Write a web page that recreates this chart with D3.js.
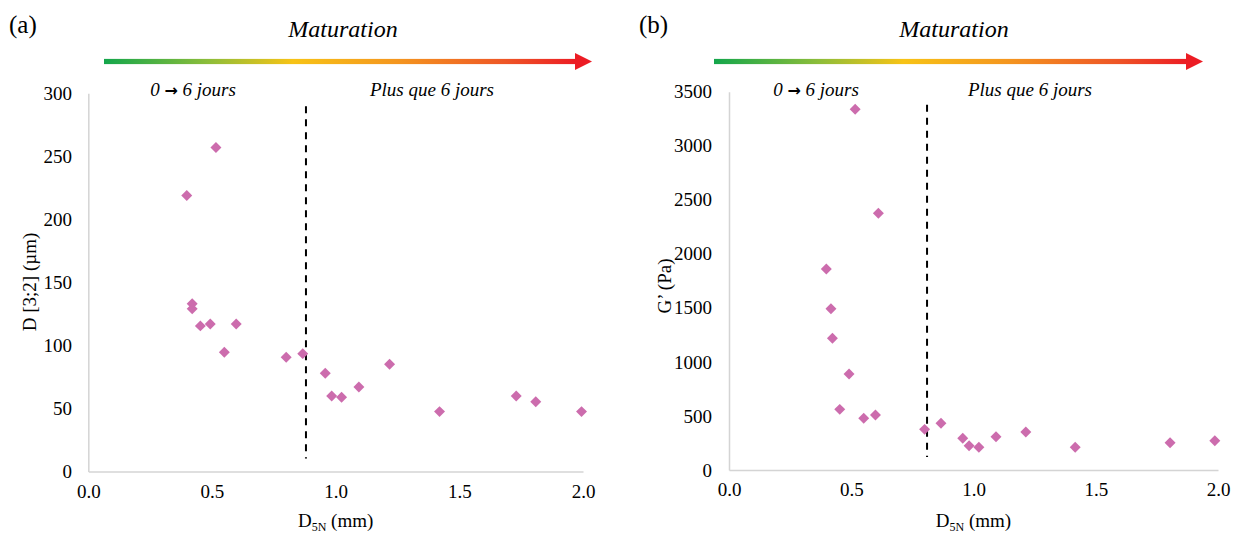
<!DOCTYPE html>
<html>
<head>
<meta charset="utf-8">
<script src="https://cdn.jsdelivr.net/npm/d3@7"></script>
<style>
  html, body { margin: 0; padding: 0; background: #fff; }
  svg { display: block; }
</style>
</head>
<body>
<svg id="chart" width="1237" height="538"></svg>
<script>
// ---------- data ----------
const xTicks = [0, 0.5, 1.0, 1.5, 2.0];
const yTicksA = [0, 50, 100, 150, 200, 250, 300];
const yTicksB = [0, 500, 1000, 1500, 2000, 2500, 3000, 3500];

// Panel (a): D5N (mm) vs D[3;2] (µm)
const d5nA = [0.398, 0.420, 0.420, 0.453, 0.493, 0.516, 0.550, 0.598, 0.800, 0.867, 0.958, 0.984, 1.024, 1.094, 1.218, 1.420, 1.730, 1.809, 1.994];
const d32A = [219, 133, 129, 115.5, 117, 257, 94.6, 117, 90.6, 93.5, 77.9, 59.9, 58.9, 67.1, 85.1, 47.5, 59.9, 55.4, 47.5];

// Panel (b): D5N (mm) vs G' (Pa)
const d5nB = [0.398, 0.417, 0.423, 0.453, 0.491, 0.516, 0.551, 0.599, 0.611, 0.800, 0.867, 0.956, 0.982, 1.022, 1.092, 1.214, 1.416, 1.804, 1.987];
const gB   = [1859, 1492, 1218, 561, 888, 3337, 478, 509, 2375, 376, 432, 293, 225, 210, 308, 351, 210, 253, 271];

const thresholdA = 0.88;
const thresholdB = 0.81;

const panelLetters = ["(a)", "(b)"];
const topTitle = "Maturation";
const zoneLabels = [["0 ", "\u2192", " 6 jours"], "Plus que 6 jours"];
const yTitles = ["D [3;2] (\u00b5m)", "G\u2019 (Pa)"];

// ---------- drawing ----------
const SERIF = "'Liberation Serif', 'Times New Roman', serif";
const svg = d3.select("#chart");
const defs = svg.append("defs");
const grad = defs.append("linearGradient").attr("id", "matGrad")
  .attr("x1", "0%").attr("x2", "100%").attr("y1", "0%").attr("y2", "0%");
[["0%", "#13a64b"], ["22%", "#8cbd3a"], ["40%", "#f7c316"], ["62%", "#f4961f"], ["85%", "#ee5626"], ["100%", "#ec1c24"]]
  .forEach(([o, c]) => grad.append("stop").attr("offset", o).attr("stop-color", c));

const markColor = "#cc6cad";
const axisColor = "#d4d4d4";

const panels = [
  { letter: panelLetters[0], xs: d5nA, ys: d32A, yTicks: yTicksA, yMax: 300, thr: thresholdA,
    xr: [88.3, 583], yr: [471.5, 93.3], arrow: [104, 592], letterX: 9, titleX: 343,
    zoneX: [193, 432], yTitle: yTitles[0], yTitleX: 36, yTitleY: 282, yLabelRight: 72 },
  { letter: panelLetters[1], xs: d5nB, ys: gB, yTicks: yTicksB, yMax: 3500, thr: thresholdB,
    xr: [729, 1218], yr: [470, 91.7], arrow: [714, 1203], letterX: 639, titleX: 954,
    zoneX: [816, 1030], yTitle: yTitles[1], yTitleX: 671, yTitleY: 286, yLabelRight: 712 }
];

panels.forEach(p => {
  const x = d3.scaleLinear().domain([0, 2]).range(p.xr);
  const y = d3.scaleLinear().domain([0, p.yMax]).range(p.yr);
  const g = svg.append("g").attr("font-family", SERIF);

  // panel letter
  g.append("text").attr("x", p.letterX).attr("y", 33).attr("font-size", 25).text(p.letter);

  // Maturation title
  g.append("text").attr("x", p.titleX).attr("y", 37).attr("text-anchor", "middle")
    .attr("font-size", 24).attr("font-style", "italic").text(topTitle);

  // gradient arrow
  const ay = 61.5, head = 17, headLen = 17;
  g.append("rect").attr("x", p.arrow[0]).attr("y", ay - 2.6)
    .attr("width", p.arrow[1] - headLen - p.arrow[0] + 1).attr("height", 5.2)
    .attr("fill", "url(#matGrad)");
  g.append("path")
    .attr("d", `M${p.arrow[1] - headLen},${ay - head / 2} L${p.arrow[1]},${ay} L${p.arrow[1] - headLen},${ay + head / 2} Z`)
    .attr("fill", "#ec1c24");

  // zone labels
  const z0 = g.append("text").attr("x", p.zoneX[0]).attr("y", 96).attr("text-anchor", "middle")
    .attr("font-size", 19).attr("font-style", "italic");
  z0.append("tspan").text(zoneLabels[0][0]);
  z0.append("tspan").attr("font-family", "'DejaVu Sans', sans-serif").attr("font-style", "normal")
    .attr("font-weight", "bold").attr("font-size", 16).text(zoneLabels[0][1]);
  z0.append("tspan").text(zoneLabels[0][2]);
  g.append("text").attr("x", p.zoneX[1]).attr("y", 96).attr("text-anchor", "middle")
    .attr("font-size", 19).attr("font-style", "italic").text(zoneLabels[1]);

  // axes
  const yAxis = g.append("g").attr("transform", `translate(${p.xr[0]},0)`)
    .call(d3.axisLeft(y).tickValues(p.yTicks).tickSize(0).tickPadding(p.xr[0] - p.yLabelRight).tickFormat(d3.format("d")));
  const xAxis = g.append("g").attr("transform", `translate(0,${p.yr[0]})`)
    .call(d3.axisBottom(x).tickValues(xTicks).tickSize(0).tickPadding(13).tickFormat(d3.format(".1f")));
  [yAxis, xAxis].forEach(a => {
    a.attr("font-family", SERIF).attr("font-size", 19);
    a.select(".domain").attr("stroke", axisColor).attr("stroke-width", 1.5);
    a.selectAll("text").attr("fill", "#000");
  });

  // threshold dashed line
  g.append("line").attr("x1", x(p.thr)).attr("x2", x(p.thr))
    .attr("y1", p.yr[1] + 13).attr("y2", p.yr[0] - 13)
    .attr("stroke", "#000").attr("stroke-width", 2).attr("stroke-dasharray", "7,6");

  // points (diamonds)
  const sym = d3.symbol().type(d3.symbolSquare).size(60);
  g.append("g").selectAll("path").data(p.xs.map((v, i) => [v, p.ys[i]])).join("path")
    .attr("d", sym)
    .attr("transform", d => `translate(${x(d[0])},${y(d[1])}) rotate(45)`)
    .attr("fill", markColor);

  // x title with subscript
  const xt = g.append("text").attr("x", (p.xr[0] + p.xr[1]) / 2).attr("y", 527)
    .attr("text-anchor", "middle").attr("font-size", 19);
  xt.append("tspan").text("D");
  xt.append("tspan").attr("font-size", 12).attr("dy", 4).text("5N");
  xt.append("tspan").attr("dy", -4).text(" (mm)");

  // y title
  g.append("text")
    .attr("transform", `translate(${p.yTitleX},${p.yTitleY}) rotate(-90)`)
    .attr("text-anchor", "middle").attr("font-size", 19).text(p.yTitle);
});
</script>
</body>
</html>
